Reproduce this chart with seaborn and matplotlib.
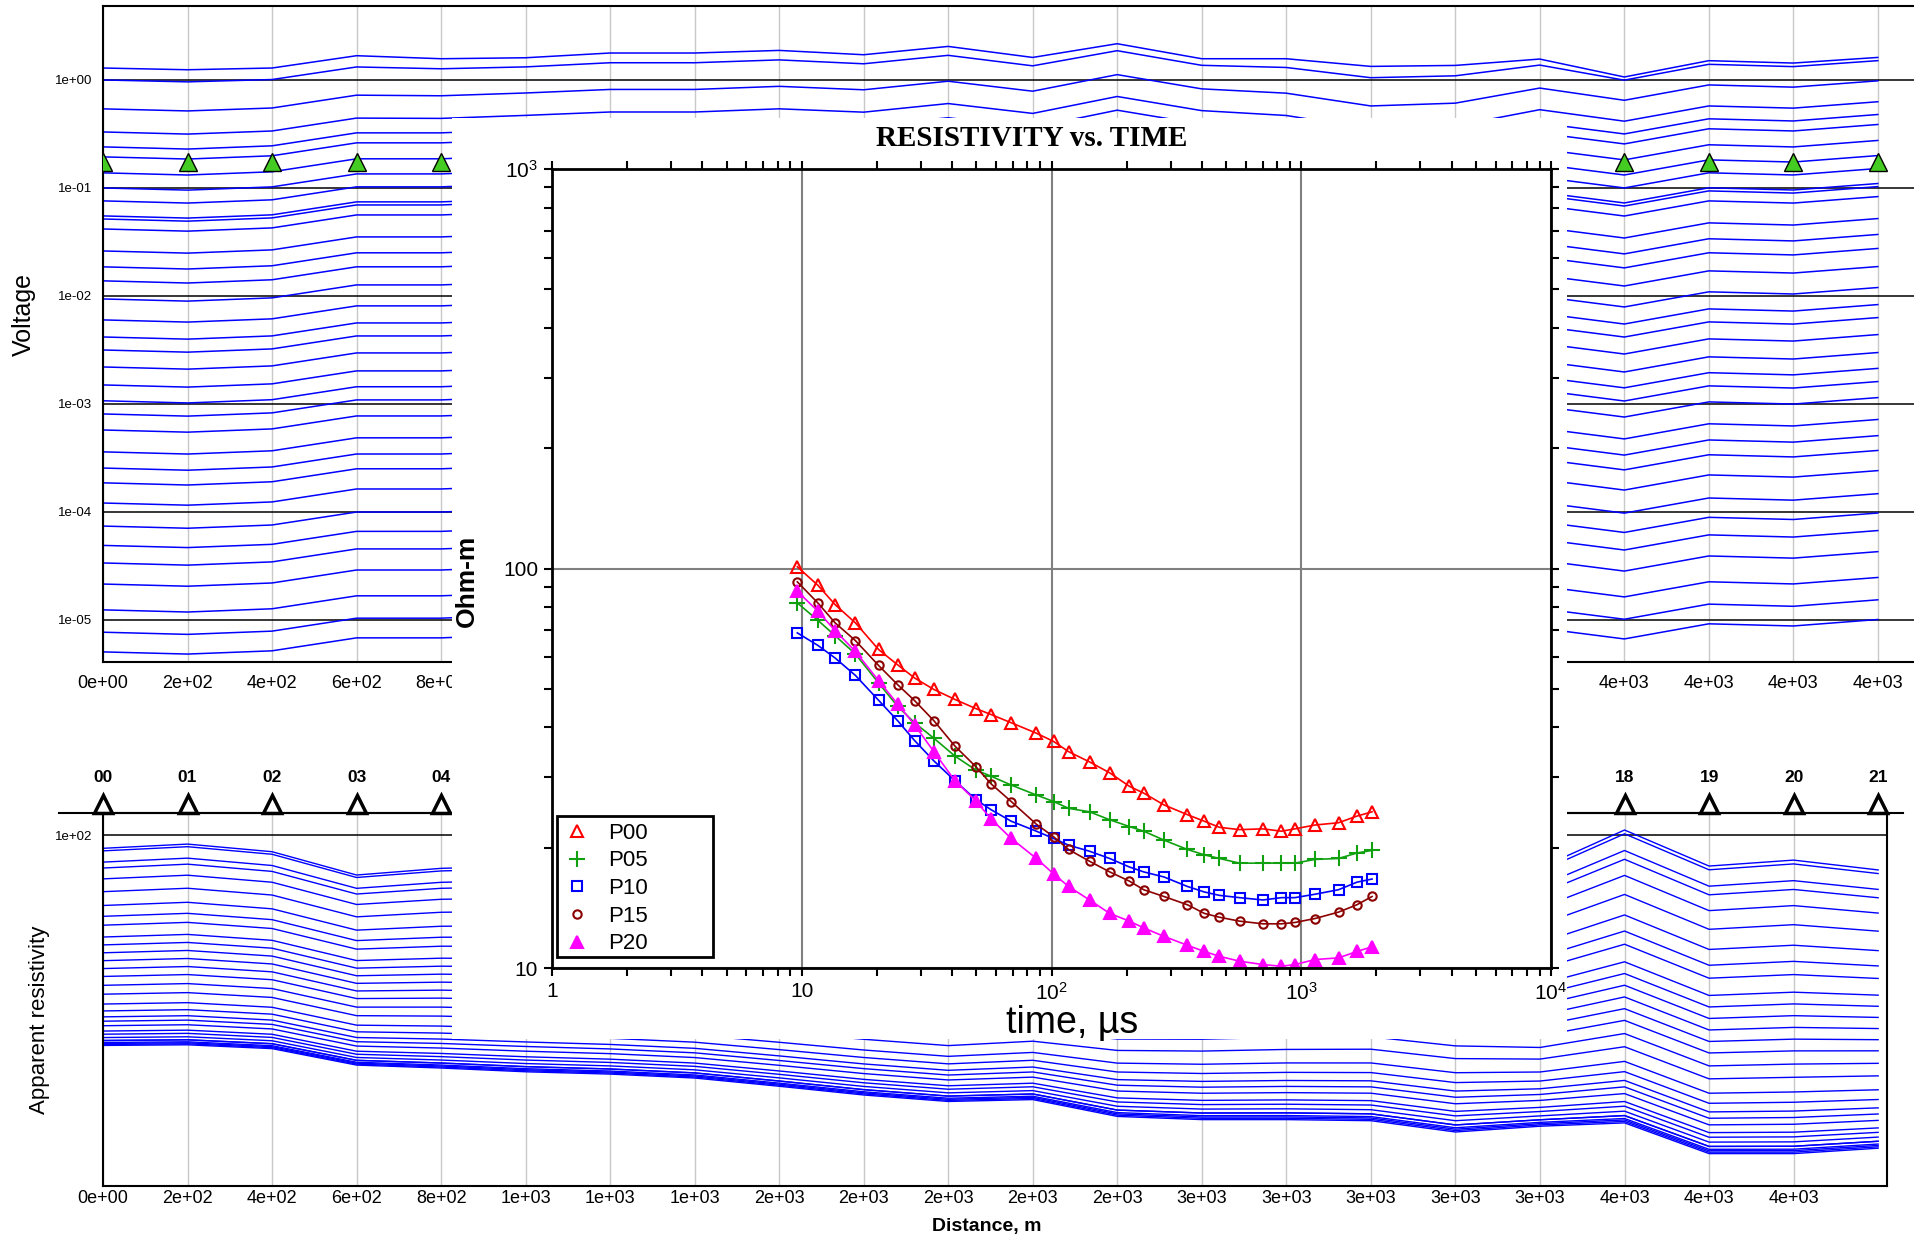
import numpy as np
import pandas as pd
import seaborn as sns
import matplotlib.pyplot as plt
from matplotlib.lines import Line2D
from matplotlib.patches import Rectangle
from matplotlib.ticker import FuncFormatter, LogLocator, NullFormatter, NullLocator

plt.rcParams['font.family'] = ['Liberation Sans', 'DejaVu Sans']
plt.rcParams['mathtext.fontset'] = 'custom'
plt.rcParams['mathtext.rm'] = 'Liberation Sans'
plt.rcParams['mathtext.default'] = 'regular'

# stations along the profile, 200 m apart
stations = ["%02d" % i for i in range(22)]
distance = [0, 200, 400, 600, 800, 1000, 1200, 1400, 1600, 1800, 2000,
            2200, 2400, 2600, 2800, 3000, 3200, 3400, 3600, 3800, 4000, 4200]

# voltage of every time gate at station 00 (top line first)
volt_station00 = [1.29, 1.0, 0.54, 0.33, 0.24, 0.194, 0.138, 0.1, 0.0759, 0.0551,
                  0.0516, 0.0417, 0.0261, 0.0186, 0.0138, 0.00938, 0.006, 0.00417,
                  0.00316, 0.0022, 0.0015, 0.00107, 0.000808, 0.000574, 0.00036,
                  0.000255, 0.000186, 0.000121, 7.4e-5, 4.9e-5, 3.37e-5, 2.15e-5,
                  1.24e-5, 7.7e-6, 5.06e-6]
# shift along the profile (decades) for the early gates and for the late gates
volt_shift_early = [0, -0.016, 0, 0.114, 0.086, 0.095, 0.139, 0.139, 0.163, 0.123, 0.2,
                    0.098, 0.225, 0.086, 0.086, 0.015, 0.024, 0.083, -0.083, 0.068, 0.046, 0.098]
volt_shift_late = [0, -0.02, 0.01, 0.13, 0.13, 0.16, 0.19, 0.19, 0.22, 0.19, 0.27,
                   0.18, 0.34, 0.21, 0.16, 0.03, 0.06, 0.22, 0.12, 0.26, 0.24, 0.3]
volt_mix = [0, 0.4, 0.8, 0.9] + [1] * 31

# apparent resistivity: first gate, lowest gate and relative position of each gate
rho_first_gate = [90.9, 93.7, 88.7, 75.0, 78.7, 80, 78, 76, 74, 72, 69,
                  75, 82, 86, 90, 92.6, 90, 78.9, 103.7, 80.0, 83.5, 77.8]
rho_lowest_gate = [22.0, 22.1, 21.5, 19.1, 18.7, 18.2, 17.9, 17.4, 16.4, 15.4, 14.7,
                   14.9, 13.2, 12.9, 12.9, 12.8, 11.8, 12.3, 12.6, 10.1, 10.1, 10.5]
rho_gate_position = [0, 0.013, 0.07, 0.10, 0.155, 0.22, 0.29, 0.345, 0.39, 0.45, 0.49,
                     0.53, 0.57, 0.61, 0.65, 0.695, 0.74, 0.79, 0.825, 0.855, 0.877,
                     0.90, 0.927, 0.943, 0.96, 0.975, 0.99, 1.0, 0.995, 0.985, 0.975]

# RESISTIVITY vs. TIME inset
gate_times = [9.6, 11.6, 13.6, 16.4, 20.3, 24.2, 28.3, 33.8, 41.1, 49.8, 57.3, 69, 87,
              102, 117, 142, 171, 205, 234, 282, 350, 409, 470, 566, 703, 833, 943,
              1136, 1410, 1671, 1921]
rho_P00 = [101, 90.8, 81.2, 73.1, 62.7, 57.4, 53.2, 49.8, 47.0, 44.6, 43.1, 41.1, 38.7,
           36.9, 34.8, 32.8, 30.8, 28.5, 27.4, 25.6, 24.2, 23.3, 22.5, 22.2, 22.3, 22.0,
           22.3, 22.8, 23.1, 24.0, 24.6]
rho_P05 = [82.0, 74.2, 67.9, 61.1, 51.7, 45.2, 41.1, 37.6, 33.9, 31.3, 30.2, 28.7, 27.1,
           26.1, 25.1, 24.6, 23.5, 22.6, 22.0, 20.9, 19.8, 19.2, 18.8, 18.3, 18.3, 18.3,
           18.3, 18.7, 18.8, 19.4, 19.7]
rho_P10 = [69.0, 64.2, 59.7, 54.0, 46.8, 41.6, 37.1, 33.0, 29.4, 26.4, 24.9, 23.3, 22.0,
           21.1, 20.3, 19.6, 18.8, 17.9, 17.4, 16.9, 16.0, 15.5, 15.2, 15.0, 14.8, 15.0,
           15.0, 15.3, 15.7, 16.4, 16.7]
rho_P15 = [92.6, 82.0, 73.1, 66.0, 57.2, 51.2, 46.7, 41.6, 35.9, 31.9, 28.9, 26.1, 22.9,
           21.3, 19.8, 18.5, 17.4, 16.5, 15.7, 15.1, 14.4, 13.7, 13.4, 13.1, 12.9, 12.9,
           13.0, 13.3, 13.8, 14.4, 15.1]
rho_P20 = [87.7, 78.2, 69.9, 62.0, 52.4, 45.8, 40.6, 34.8, 29.4, 26.2, 23.6, 21.1, 18.8,
           17.2, 16.0, 14.8, 13.7, 13.1, 12.6, 12.0, 11.4, 11.0, 10.7, 10.4, 10.2, 10.1,
           10.2, 10.5, 10.6, 11.0, 11.3]

# long tables for seaborn
rows = []
for g, v0 in enumerate(volt_station00):
    for s, d in enumerate(distance):
        shift = (1 - volt_mix[g]) * volt_shift_early[s] + volt_mix[g] * volt_shift_late[s]
        rows.append((g, d, v0 * 10 ** shift))
volt_df = pd.DataFrame(rows, columns=["gate", "distance", "voltage"])

rows = []
for g, pos in enumerate(rho_gate_position):
    for s, d in enumerate(distance):
        hi = np.log10(rho_first_gate[s])
        lo = np.log10(rho_lowest_gate[s])
        rows.append((g, d, 10 ** (hi + pos * (lo - hi))))
rho_df = pd.DataFrame(rows, columns=["gate", "distance", "rho"])

W, H = 1915, 1237
fig = plt.figure(figsize=(W / 100, H / 100), dpi=100)

def fx(px):
    return px / W

def fy(py):
    return 1 - py / H

sci = FuncFormatter(lambda v, p: f"{v:.0e}")

# ---- voltage panel
ax_v = fig.add_axes([fx(103), fy(662), 1 - fx(103), (662 - 6) / H])
sns.lineplot(data=volt_df, x="distance", y="voltage", units="gate", estimator=None,
             color="#0000ff", linewidth=1.1, ax=ax_v)
ax_v.set_yscale("log")
ax_v.set_ylim(4.08e-6, 4.84)
ax_v.set_xlim(0, 4288)
ax_v.set_yticks([1e-5, 1e-4, 1e-3, 1e-2, 1e-1, 1])
ax_v.yaxis.set_major_formatter(sci)
ax_v.yaxis.set_minor_locator(NullLocator())
ax_v.set_xticks(distance)
ax_v.xaxis.set_major_formatter(sci)
ax_v.grid(axis="y", color="black", lw=1.1)
ax_v.grid(axis="x", color="#c8c8c8", lw=1)
ax_v.tick_params(axis="y", length=0, pad=8, labelsize=9.5)
ax_v.tick_params(axis="x", length=0, pad=9, labelsize=13)
ax_v.spines["right"].set_visible(False)
for sp in ["left", "top", "bottom"]:
    ax_v.spines[sp].set_linewidth(1.5)
ax_v.set_xlabel("")
ax_v.set_ylabel("")
ax_v.plot(distance, [0.762] * len(distance), transform=ax_v.get_xaxis_transform(),
          ls="none", marker="^", ms=13, mfc="#44cc22", mec="black", mew=1, zorder=4)

# ---- apparent resistivity panel
ax_r = fig.add_axes([fx(103), fy(1186), (1887 - 103) / W, (1186 - 813) / H])
sns.lineplot(data=rho_df, x="distance", y="rho", units="gate", estimator=None,
             color="#0000ff", linewidth=1.0, ax=ax_r)
ax_r.set_yscale("log")
ax_r.set_ylim(8.0, 117.2)
ax_r.set_xlim(0, 4221)
ax_r.set_yticks([100])
ax_r.yaxis.set_major_formatter(sci)
ax_r.yaxis.set_minor_locator(NullLocator())
ax_r.set_xticks(distance[:-1])
ax_r.xaxis.set_major_formatter(sci)
ax_r.grid(axis="y", color="black", lw=1.1)
ax_r.grid(axis="x", color="#c8c8c8", lw=1)
ax_r.tick_params(axis="y", length=0, pad=8, labelsize=9.5)
ax_r.tick_params(axis="x", length=0, pad=3, labelsize=13)
for sp in ax_r.spines.values():
    sp.set_linewidth(1.5)
ax_r.set_xlabel("")
ax_r.set_ylabel("")
ax_r.plot(distance, [1.024] * len(distance), transform=ax_r.get_xaxis_transform(),
          ls="none", marker="^", ms=13, mfc="white", mec="black", mew=2.5,
          clip_on=False, zorder=4)
for d, name in zip(distance, stations):
    ax_r.text(d, 1.094, name, transform=ax_r.get_xaxis_transform(), ha="center",
              va="center", fontsize=12.5, fontweight="bold")
fig.add_artist(Line2D([fx(59), fx(1903)], [fy(813), fy(813)], color="black", lw=1.5))

fig.text(fx(24), fy(315), "Voltage", rotation=90, ha="center", va="center", fontsize=18)
fig.text(fx(40), fy(1020), "Apparent resistivity", rotation=90, ha="center",
         va="center", fontsize=16)
fig.text(fx(987), fy(1227), "Distance, m", ha="center", va="center", fontsize=14,
         fontweight="bold")

# ---- white cover and inset
fig.add_artist(Rectangle((fx(452), fy(1039)), (1567 - 452) / W, (1039 - 118) / H,
                         transform=fig.transFigure, facecolor="white",
                         edgecolor="none", zorder=5))
ax_i = fig.add_axes([fx(552), fy(968), (1551 - 552) / W, (968 - 169) / H], zorder=6)

series = [
    ("P00", rho_P00, "#ff0000", "^", 8, "none"),
    ("P05", rho_P05, "#10a010", "+", 11, "none"),
    ("P10", rho_P10, "#0000ff", "s", 7, "none"),
    ("P15", rho_P15, "#8b0000", "o", 6, "none"),
    ("P20", rho_P20, "#ff00ff", "^", 9, "#ff00ff"),
]
handles = []
for name, vals, col, mk, ms, fc in series:
    sns.lineplot(x=gate_times, y=vals, estimator=None, color=col, linewidth=1.2,
                 marker=mk, markersize=ms, markerfacecolor=fc,
                 markeredgecolor=col, markeredgewidth=1.5, ax=ax_i)
    handles.append(Line2D([], [], ls="none", marker=mk, ms=ms, markerfacecolor=fc,
                          markeredgecolor=col, markeredgewidth=1.5))

ax_i.set_xscale("log")
ax_i.set_yscale("log")
ax_i.set_xlim(1, 1e4)
ax_i.set_ylim(10, 1000)
ax_i.set_xticks([1, 10, 100, 1000, 10000])
ax_i.set_xticklabels(["1", "10", "$10^2$", "$10^3$", "$10^4$"])
ax_i.set_yticks([10, 100, 1000])
ax_i.set_yticklabels(["10", "100", "$10^3$"])
ax_i.xaxis.set_minor_locator(LogLocator(base=10, subs=np.arange(2, 10)))
ax_i.yaxis.set_minor_locator(LogLocator(base=10, subs=np.arange(2, 10)))
ax_i.xaxis.set_minor_formatter(NullFormatter())
ax_i.yaxis.set_minor_formatter(NullFormatter())
ax_i.tick_params(which="both", direction="out", top=True, right=True, width=1.5,
                 length=6, labelsize=15, pad=4)
ax_i.grid(which="major", color="#808080", lw=1.5)
ax_i.set_axisbelow(True)
for sp in ax_i.spines.values():
    sp.set_linewidth(2)
ax_i.set_xlabel("")
ax_i.set_ylabel("")

# legend without its own frame; the wider box of the original is drawn separately
leg = ax_i.legend(handles, [s[0] for s in series], loc="lower left",
                  bbox_to_anchor=(0.005, 0.006), frameon=False, fontsize=16,
                  handlelength=1.0, handletextpad=0.9, labelspacing=0.3,
                  borderpad=0.4, borderaxespad=0)
leg.set_zorder(7)
ax_i.add_patch(Rectangle((0.005, 0.014), 0.156, 0.176, transform=ax_i.transAxes,
                         facecolor="white", edgecolor="black", lw=2, zorder=6))

fig.text(fx(1032), fy(138), "RESISTIVITY vs. TIME", family=["Liberation Serif"],
         fontweight="bold", fontsize=21, ha="center", va="center", zorder=7)
fig.text(fx(1072), fy(1023), "time, µs", fontsize=27, ha="center", va="center", zorder=7)
fig.text(fx(467), fy(581), "Ohm-m", rotation=90, fontsize=19, fontweight="bold",
         ha="center", va="center", zorder=7)

fig.savefig("out.png", dpi=100)
